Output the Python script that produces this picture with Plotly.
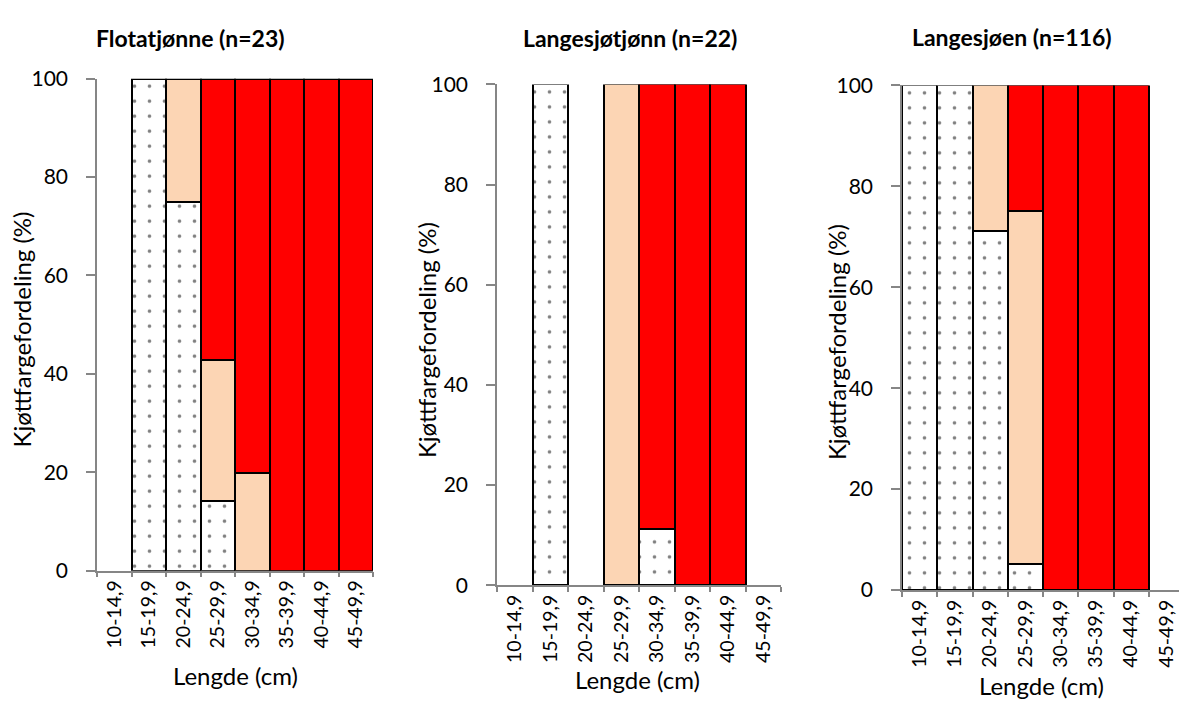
import plotly.graph_objects as go

# Length classes (cm)
lengdegrupper = ["10-14,9", "15-19,9", "20-24,9", "25-29,9",
                 "30-34,9", "35-39,9", "40-44,9", "45-49,9"]

# Flesh colour distribution (%) per length class; None = no fish in class
flota_hvit = [None, 100, 75, 14.3, None, None, None, None]
flota_lys = [None, None, 25, 28.6, 20, None, None, None]
flota_rod = [None, None, None, 57.1, 80, 100, 100, 100]

ltjonn_hvit = [None, 100, None, None, 11.1, None, None, None]
ltjonn_lys = [None, None, None, 100, None, None, None, None]
ltjonn_rod = [None, None, None, None, 88.9, 100, 100, None]

lsjoen_hvit = [100, 100, 71, 5, None, None, None, None]
lsjoen_lys = [None, None, 29, 70, None, None, None, None]
lsjoen_rod = [None, None, None, 25, 100, 100, 100, None]

titler = ["Flotatjønne (n=23)", "Langesjøtjønn (n=22)", "Langesjøen (n=116)"]
yticks = [0, 20, 40, 60, 80, 100]

FONT = "Lato, 'Open Sans', sans-serif"
AXIS_GREY = "#868686"
PEACH = "#FCD5B4"
RED = "#FF0000"

panels = [
    (flota_hvit, flota_lys, flota_rod),
    (ltjonn_hvit, ltjonn_lys, ltjonn_rod),
    (lsjoen_hvit, lsjoen_lys, lsjoen_rod),
]

fig = go.Figure()
outline = dict(color="black", width=2)
for i, (hvit, lys, rod) in enumerate(panels):
    sfx = "" if i == 0 else str(i + 1)
    fig.add_trace(go.Bar(
        x=lengdegrupper, y=hvit, name="Hvit", xaxis="x" + sfx, yaxis="y" + sfx,
        marker=dict(color="white", line=outline,
                    pattern=dict(shape=".", fgcolor="black", bgcolor="white",
                                 size=15, solidity=0.045)),
        showlegend=False))
    fig.add_trace(go.Bar(
        x=lengdegrupper, y=lys, name="Lys", xaxis="x" + sfx, yaxis="y" + sfx,
        marker=dict(color=PEACH, line=outline), showlegend=False))
    fig.add_trace(go.Bar(
        x=lengdegrupper, y=rod, name="Rød", xaxis="x" + sfx, yaxis="y" + sfx,
        marker=dict(color=RED, line=outline), showlegend=False))

W, H = 1179, 711
# pixel geometry of each panel: (x0, x1, y_top, y_bottom)
geom = [(97, 373, 67, 577), (497, 781, 73, 592), (902, 1179, 74, 597)]
xranges = [[-0.5, 7.5], [-0.5, 7.5], [-0.5, 7.5 - 5 / 35.2]]

layout = dict(
    width=W, height=H, margin=dict(l=0, r=0, t=0, b=0),
    paper_bgcolor="white", plot_bgcolor="white",
    barmode="stack", bargap=0,
    font=dict(family=FONT, color="black"),
)
for i, (x0, x1, yt, yb) in enumerate(geom):
    sfx = "" if i == 0 else str(i + 1)
    layout["xaxis" + sfx] = dict(
        domain=[x0 / W, x1 / W], anchor="y" + sfx, type="category",
        range=xranges[i], tickson="boundaries", ticks="outside", ticklen=5,
        tickcolor=AXIS_GREY, tickwidth=1.5, showline=True, linecolor=AXIS_GREY,
        linewidth=1.5, showgrid=False, tickangle=-90,
        tickfont=dict(size=19.5, family=FONT), zeroline=False,
    )
    layout["yaxis" + sfx] = dict(
        domain=[1 - yb / H, 1 - yt / H], anchor="x" + sfx, range=[0, 100],
        tickvals=yticks, ticks="outside", ticklen=9, tickcolor=AXIS_GREY,
        tickwidth=1.5, showline=True, linecolor=AXIS_GREY, linewidth=1.5,
        showgrid=False, zeroline=False, tickfont=dict(size=21, family=FONT),
        ticklabelstandoff=14,
    )
fig.update_layout(**layout)

# Panel titles and axis titles (pixel centres)
title_pos = [(190, 25), (630, 25), (1012, 24)]
ytitle_pos = [(22, 327), (426, 338), (836, 340)]
xtitle_pos = [(235, 686), (638, 690), (1041, 696)]


def centred(x, y, text, size, angle=0):
    fig.add_annotation(x=x / W, y=1 - y / H, xref="paper", yref="paper",
                       xanchor="center", yanchor="middle", text=text,
                       textangle=angle, showarrow=False,
                       font=dict(size=size, family=FONT, color="black"))


for i in range(3):
    centred(*title_pos[i], "<b>" + titler[i] + "</b>", 23)
    centred(*ytitle_pos[i], "Kjøttfargefordeling (%)", 24, angle=-90)
    centred(*xtitle_pos[i], "Lengde (cm)", 24)

fig.write_html("out.html")
